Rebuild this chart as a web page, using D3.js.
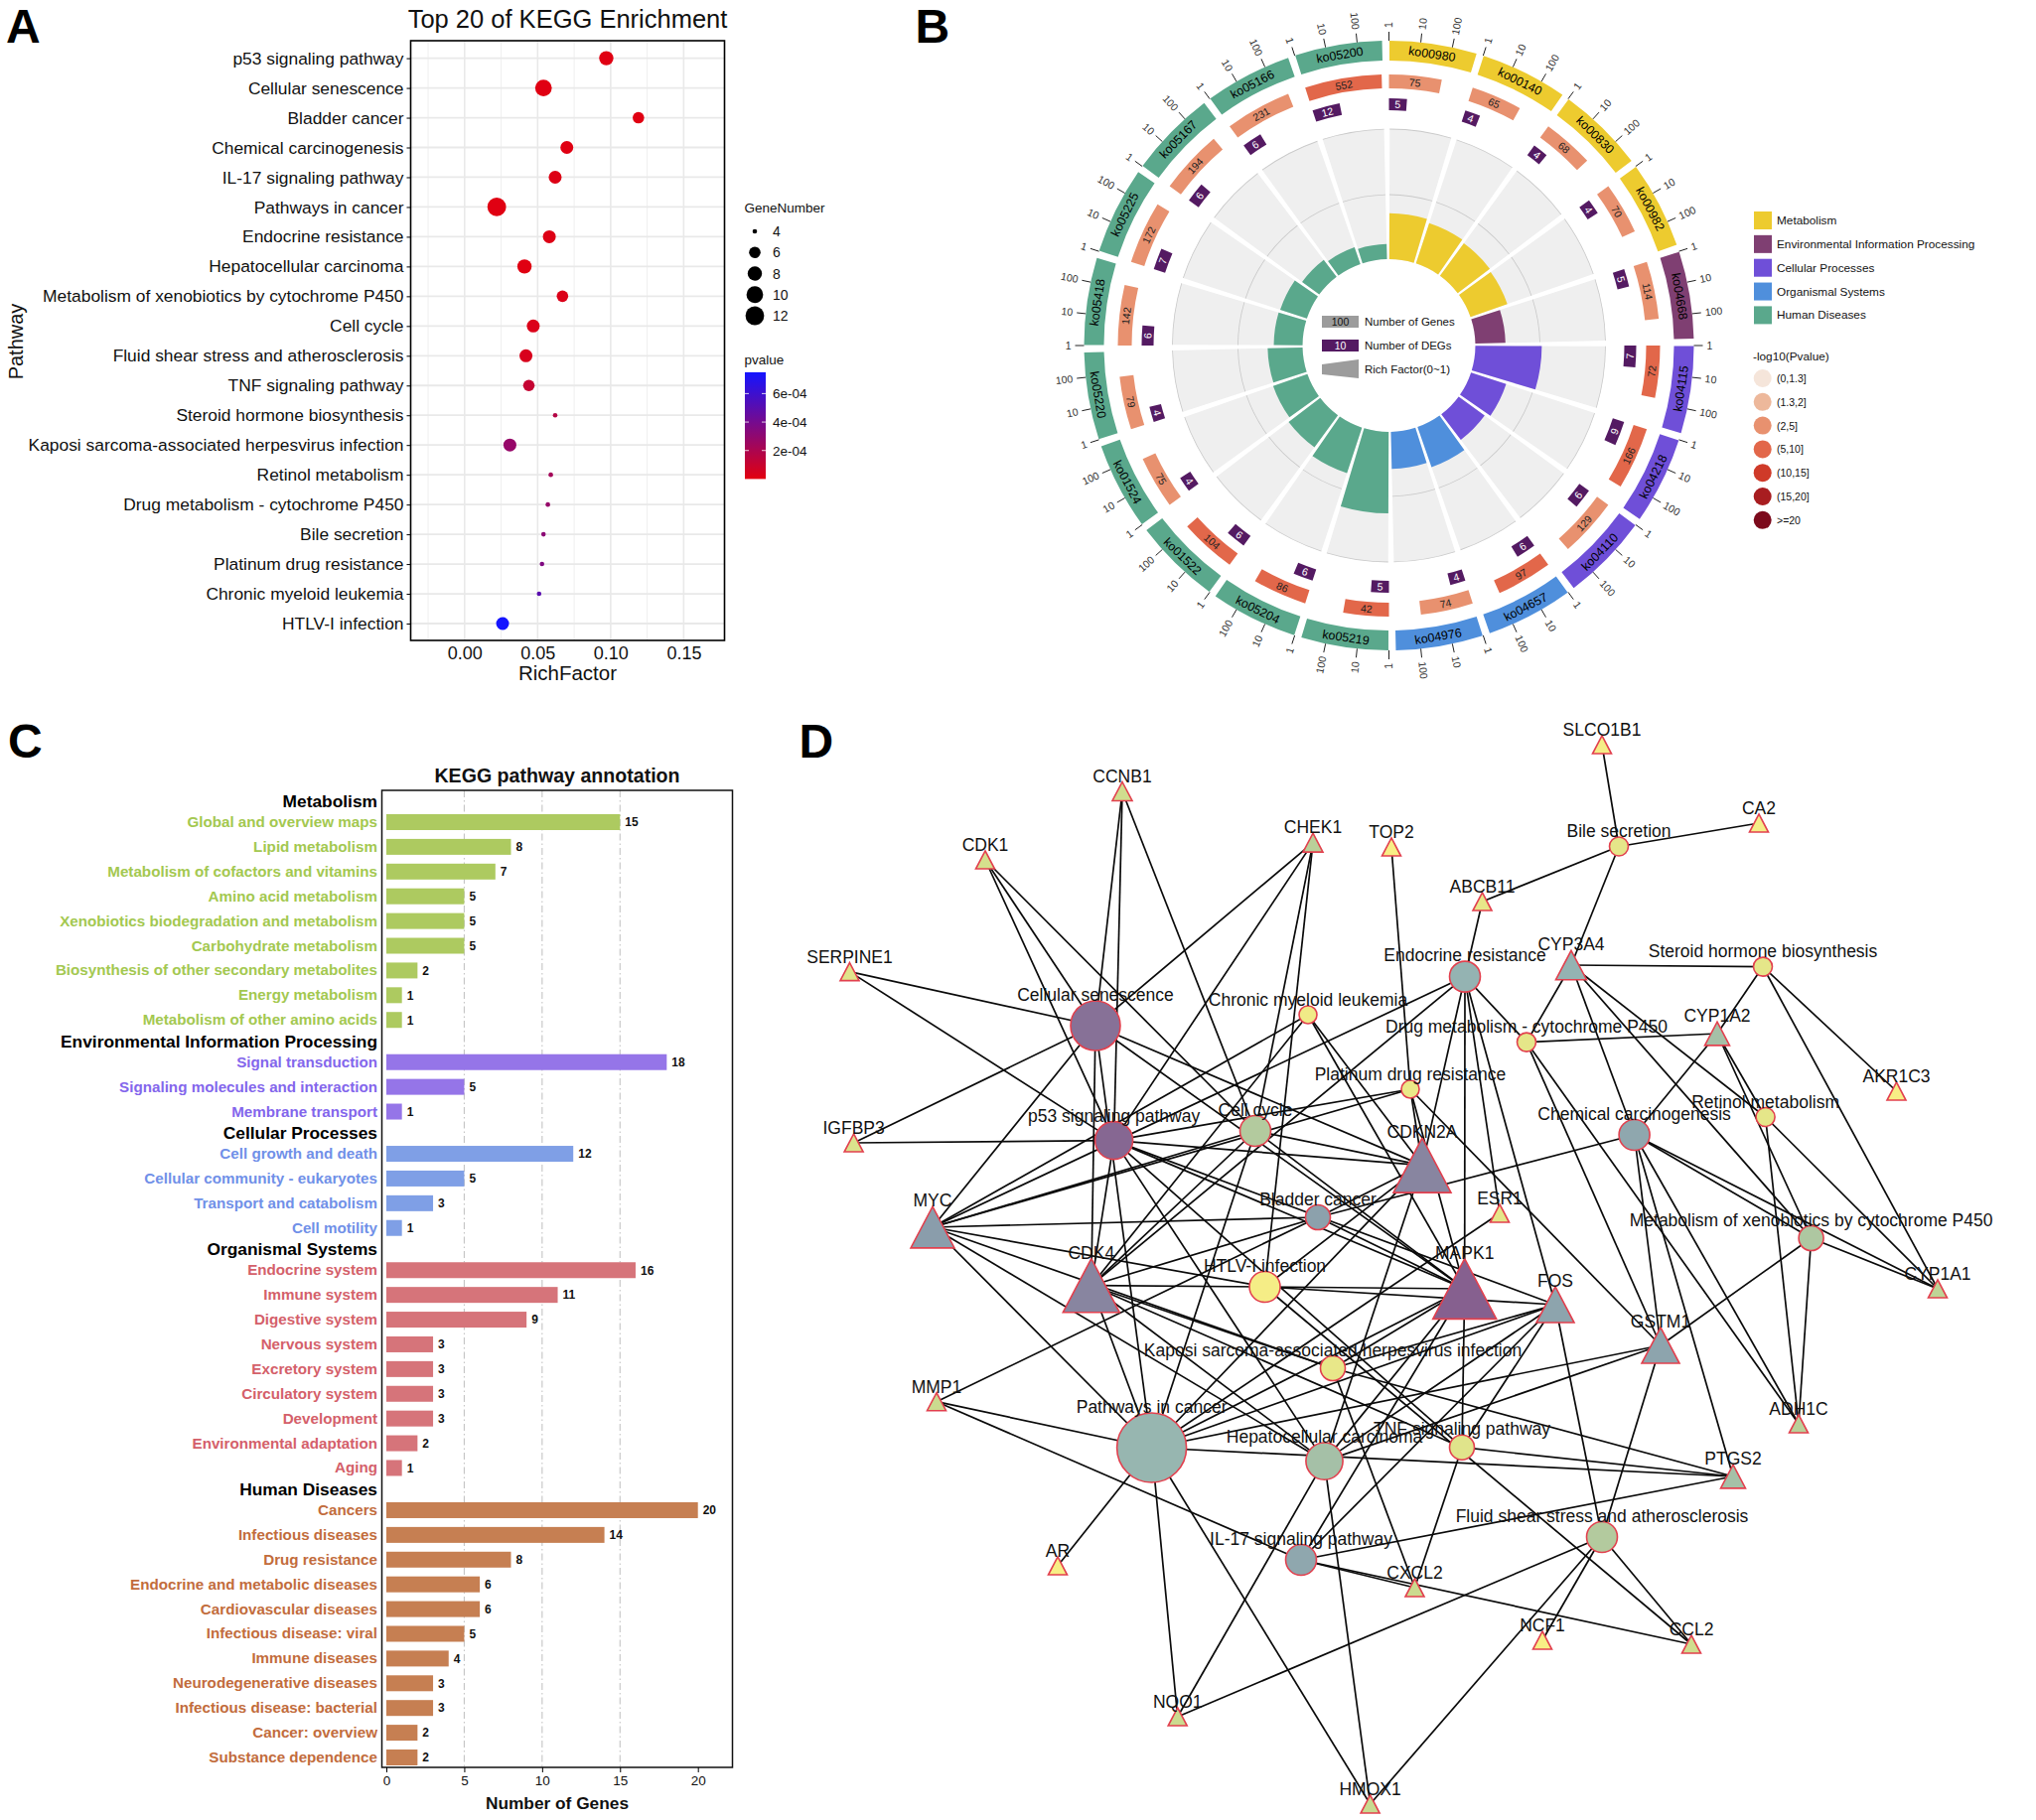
<!DOCTYPE html>
<html>
<head>
<meta charset="utf-8">
<script src="https://cdn.jsdelivr.net/npm/d3@7"></script>
<style>
  html, body { margin: 0; padding: 0; background: #fff; }
  svg { display: block; }
  text { font-family: "Liberation Sans", Arial, sans-serif; fill: #111; }
</style>
</head>
<body>
<script>
const width = 2050;
const height = 1833;

// panel A
const pathways = ["p53 signaling pathway", "Cellular senescence", "Bladder cancer", "Chemical carcinogenesis",
    "IL-17 signaling pathway", "Pathways in cancer", "Endocrine resistance", "Hepatocellular carcinoma",
    "Metabolism of xenobiotics by cytochrome P450", "Cell cycle", "Fluid shear stress and atherosclerosis",
    "TNF signaling pathway", "Steroid hormone biosynthesis", "Kaposi sarcoma-associated herpesvirus infection",
    "Retinol metabolism", "Drug metabolism - cytochrome P450", "Bile secretion", "Platinum drug resistance",
    "Chronic myeloid leukemia", "HTLV-I infection"];
const richFactor = [0.097, 0.054, 0.119, 0.070, 0.062, 0.022, 0.058, 0.041, 0.067, 0.047, 0.042, 0.044, 0.062, 0.031, 0.059, 0.057, 0.054, 0.053, 0.051, 0.026];
const geneNumber = [8, 10, 6, 7, 7, 12, 7, 8, 6, 7, 7, 6, 4, 7, 4, 4, 4, 4, 4, 7];
const pvalue = [0.00001, 0.00001, 0.00001, 0.00001, 0.00002, 0.00001, 0.00002, 0.00001, 0.00003, 0.00003, 0.00004, 0.00011, 0.00017, 0.00028, 0.00023, 0.00028, 0.00032, 0.00036, 0.0005, 0.00075];
const sizeLegend = [4, 6, 8, 10, 12];
const pvalueTicks = [0.0002, 0.0004, 0.0006];
const pvalueLabels = ["2e-04", "4e-04", "6e-04"];

// panel B
const koIds = ["ko00980", "ko00140", "ko00830", "ko00982", "ko04668", "ko04115", "ko04218", "ko04110", "ko04657", "ko04976",
    "ko05219", "ko05204", "ko01522", "ko01524", "ko05220", "ko05418", "ko05225", "ko05167", "ko05166", "ko05200"];
const koClass = [0, 0, 0, 0, 1, 2, 2, 2, 3, 3, 4, 4, 4, 4, 4, 4, 4, 4, 4, 4];
const koGenes = [75, 65, 68, 70, 114, 72, 166, 129, 97, 74, 42, 86, 104, 75, 79, 142, 172, 194, 231, 552];
const koDegs = [5, 4, 4, 4, 5, 7, 9, 6, 6, 4, 5, 6, 6, 4, 4, 6, 7, 6, 6, 12];
const koRich = [0.067, 0.062, 0.059, 0.057, 0.044, 0.097, 0.054, 0.047, 0.062, 0.054, 0.119, 0.070, 0.058, 0.053, 0.051, 0.042, 0.041, 0.031, 0.026, 0.022];
const koPbin = [2, 2, 2, 2, 2, 3, 3, 2, 3, 2, 3, 3, 3, 2, 2, 2, 2, 2, 2, 3];
const classNames = ["Metabolism", "Environmental Information Processing", "Cellular Processes", "Organismal Systems", "Human Diseases"];
const classColors = ["#edcb2f", "#7f3f72", "#6f4fd8", "#4f8fdc", "#5aa88c"];
const pBinNames = ["(0,1.3]", "(1.3,2]", "(2,5]", "(5,10]", "(10,15]", "(15,20]", ">=20"];
const pBinColors = ["#f5e5da", "#edb89b", "#e8916f", "#e2674a", "#cf3a29", "#a81d20", "#7c0a1c"];
const logTicks = [1, 10, 100];

// panel C
const annotationGroups = ["Metabolism", "Environmental Information Processing", "Cellular Processes", "Organismal Systems", "Human Diseases"];
const annotationBar = ["#adca60", "#9575e8", "#7f9fe6", "#d6747a", "#c67f52"];
const annotationText = ["#a3c850", "#8366ec", "#7090e8", "#d4606a", "#c26c3c"];
const annotationRows = [
    ["Global and overview maps", "Lipid metabolism", "Metabolism of cofactors and vitamins", "Amino acid metabolism", "Xenobiotics biodegradation and metabolism", "Carbohydrate metabolism", "Biosynthesis of other secondary metabolites", "Energy metabolism", "Metabolism of other amino acids"],
    ["Signal transduction", "Signaling molecules and interaction", "Membrane transport"],
    ["Cell growth and death", "Cellular community - eukaryotes", "Transport and catabolism", "Cell motility"],
    ["Endocrine system", "Immune system", "Digestive system", "Nervous system", "Excretory system", "Circulatory system", "Development", "Environmental adaptation", "Aging"],
    ["Cancers", "Infectious diseases", "Drug resistance", "Endocrine and metabolic diseases", "Cardiovascular diseases", "Infectious disease: viral", "Immune diseases", "Neurodegenerative diseases", "Infectious disease: bacterial", "Cancer: overview", "Substance dependence"]
];
const annotationValues = [
    [15, 8, 7, 5, 5, 5, 2, 1, 1],
    [18, 5, 1],
    [12, 5, 3, 1],
    [16, 11, 9, 3, 3, 3, 3, 2, 1],
    [20, 14, 8, 6, 6, 5, 4, 3, 3, 2, 2]
];

// panel D, layout
const geneNames = ["CCNB1", "CHEK1", "TOP2", "CDK1", "SERPINE1", "IGFBP3", "CDKN2A", "MYC", "SLCO1B1", "CA2", "ABCB11", "CYP3A4", "CYP1A2", "AKR1C3", "ESR1", "CYP1A1", "MAPK1", "FOS", "GSTM1", "ADH1C", "PTGS2", "CXCL2", "NCF1", "CCL2", "CDK4", "MMP1", "AR", "NQO1", "HMOX1"];
const geneX = [1130, 1322, 1401, 992, 855.5, 859.6, 1432, 939, 1613, 1771, 1492.5, 1582, 1729, 1909.5, 1510, 1951, 1474.7, 1566, 1672, 1811, 1745, 1424.5, 1553, 1703, 1098.8, 943, 1065, 1185.7, 1379.6];
const geneY = [797, 848.6, 853, 866, 978.6, 1151, 1173.6, 1236, 750, 829, 908, 972, 1041, 1099, 1222, 1298, 1298, 1314, 1355, 1434, 1487, 1599, 1652, 1656, 1294.7, 1411.7, 1577, 1729, 1817];
const geneSize = [20, 20, 19, 19, 19, 19, 58, 44, 19, 19, 19, 31, 25, 19, 19, 19, 64, 38, 38, 19, 25, 19, 19, 19, 57, 19, 19, 19, 19];
const geneShade = [0.25, 0.38, 0, 0.22, 0.15, 0.18, 0.85, 0.75, 0.02, 0.02, 0.1, 0.6, 0.5, 0, 0.12, 0.35, 1, 0.7, 0.7, 0.38, 0.5, 0.28, 0, 0.25, 0.85, 0.28, 0, 0.28, 0.3];

const termNames = ["Cellular senescence", "Chronic myeloid leukemia", "Platinum drug resistance", "p53 signaling pathway", "Cell cycle", "Bladder cancer", "Bile secretion", "Steroid hormone biosynthesis", "Endocrine resistance", "Drug metabolism - cytochrome P450", "Retinol metabolism", "Chemical carcinogenesis", "Metabolism of xenobiotics by cytochrome P450", "TNF signaling pathway", "Fluid shear stress and atherosclerosis", "HTLV-I infection", "Kaposi sarcoma-associated herpesvirus infection", "Pathways in cancer", "Hepatocellular carcinoma", "IL-17 signaling pathway"];
const termX = [1103, 1317, 1420, 1121.6, 1264, 1327, 1630, 1775, 1475, 1537, 1777.6, 1645.6, 1823.6, 1472, 1613, 1273.5, 1342, 1159.6, 1333.5, 1310];
const termY = [1033, 1022, 1097, 1148.6, 1139, 1226, 852.5, 973.6, 983.6, 1049.6, 1125, 1143, 1247, 1457.7, 1548, 1296, 1378, 1458, 1471.6, 1571];
const termRadius = [25, 9, 9, 19, 15.5, 12.5, 9.5, 9.5, 15.5, 9.5, 9.5, 15.5, 12.5, 12.5, 15.5, 15.5, 12.5, 35, 18.6, 15.5];
const termShade = [0.93, 0.05, 0.08, 0.97, 0.42, 0.72, 0.12, 0.12, 0.6, 0.12, 0.12, 0.68, 0.45, 0.15, 0.42, 0.02, 0.1, 0.58, 0.5, 0.68];

const termLinks = [
    ["Bile secretion", ["SLCO1B1", "CA2", "ABCB11", "CYP3A4"]],
    ["Endocrine resistance", ["ABCB11", "ESR1", "CDKN2A", "MAPK1", "FOS", "CDK4", "MYC", "Drug metabolism - cytochrome P450"]],
    ["Steroid hormone biosynthesis", ["CYP3A4", "CYP1A2", "AKR1C3", "CYP1A1"]],
    ["Drug metabolism - cytochrome P450", ["CYP3A4", "CYP1A2", "GSTM1", "ADH1C"]],
    ["Retinol metabolism", ["CYP3A4", "CYP1A2", "ADH1C", "CYP1A1"]],
    ["Chemical carcinogenesis", ["CYP3A4", "CYP1A2", "GSTM1", "PTGS2", "ADH1C", "CYP1A1", "Bladder cancer", "Metabolism of xenobiotics by cytochrome P450"]],
    ["Metabolism of xenobiotics by cytochrome P450", ["CYP3A4", "CYP1A2", "GSTM1", "ADH1C", "CYP1A1"]],
    ["Platinum drug resistance", ["TOP2", "GSTM1", "CDKN2A", "MAPK1", "MYC", "p53 signaling pathway"]],
    ["Chronic myeloid leukemia", ["MYC", "CDK4", "CDKN2A", "MAPK1"]],
    ["Bladder cancer", ["MYC", "CDKN2A", "MAPK1", "CDK4", "MMP1"]],
    ["Cellular senescence", ["SERPINE1", "IGFBP3", "CCNB1", "CHEK1", "CDK1", "MYC", "CDKN2A", "MAPK1", "CDK4", "Pathways in cancer"]],
    ["p53 signaling pathway", ["SERPINE1", "IGFBP3", "CCNB1", "CHEK1", "CDK1", "CDK4", "CDKN2A", "MAPK1", "FOS", "Hepatocellular carcinoma", "TNF signaling pathway"]],
    ["Cell cycle", ["CCNB1", "CDK1", "CHEK1", "CDKN2A", "CDK4", "MYC", "MAPK1", "Pathways in cancer"]],
    ["HTLV-I infection", ["CHEK1", "CDK4", "MYC", "MAPK1", "FOS", "CDKN2A", "CCL2"]],
    ["Kaposi sarcoma-associated herpesvirus infection", ["MYC", "CDK4", "MAPK1", "FOS", "PTGS2", "CXCL2"]],
    ["TNF signaling pathway", ["MAPK1", "FOS", "CXCL2", "PTGS2", "CDK4"]],
    ["Fluid shear stress and atherosclerosis", ["FOS", "GSTM1", "NCF1", "CCL2", "HMOX1", "NQO1"]],
    ["IL-17 signaling pathway", ["MMP1", "FOS", "MAPK1", "PTGS2", "CXCL2", "CCL2"]],
    ["Hepatocellular carcinoma", ["MYC", "CDK4", "CDKN2A", "MAPK1", "FOS", "GSTM1", "NQO1", "HMOX1"]],
    ["Pathways in cancer", ["MYC", "CDK4", "CDKN2A", "MAPK1", "FOS", "GSTM1", "PTGS2", "MMP1", "AR", "NQO1", "HMOX1", "ESR1"]]
];

const svg = d3.select("body").append("svg").attr("width", width).attr("height", height);

const panelLetters = [["A", 6, 43], ["B", 921.5, 43], ["C", 8, 763], ["D", 804.5, 763]];
svg.selectAll(".panel-letter").data(panelLetters).join("text")
    .attr("class", "panel-letter")
    .attr("x", d => d[1])
    .attr("y", d => d[2])
    .attr("font-size", 48)
    .attr("font-weight", "bold")
    .style("fill", "#000")
    .text(d => d[0]);

function drawEnrichment() {
    const g = svg.append("g");
    const box = { left: 413.5, right: 729.5, top: 41, bottom: 645 };

    const x = d3.scaleLinear().domain([0, 0.15]).range([467.8, 688.4]);
    const y = d3.scalePoint().domain(pathways).range([58.6, 628]);
    const radius = d3.scaleLinear().domain(sizeLegend).range([2.3, 5.8, 7.2, 8.4, 9.4]);
    const color = d3.scaleLinear().domain([0, 0.00075]).range(["#e3000f", "#1414ff"]);

    const minor = [-0.025, 0.025, 0.075, 0.125];
    const major = [0, 0.05, 0.1, 0.15];
    g.selectAll(".minor").data(minor).join("line")
        .attr("x1", d => x(d)).attr("x2", d => x(d)).attr("y1", box.top).attr("y2", box.bottom)
        .attr("stroke", "#efefef").attr("stroke-width", 1);
    g.selectAll(".major").data(major).join("line")
        .attr("x1", d => x(d)).attr("x2", d => x(d)).attr("y1", box.top).attr("y2", box.bottom)
        .attr("stroke", "#e9e9e9").attr("stroke-width", 1.6);
    g.selectAll(".hgrid").data(pathways).join("line")
        .attr("x1", box.left).attr("x2", box.right).attr("y1", d => y(d)).attr("y2", d => y(d))
        .attr("stroke", "#e9e9e9").attr("stroke-width", 1.8);

    g.selectAll(".dot").data(pathways).join("circle")
        .attr("cx", (d, i) => x(richFactor[i]))
        .attr("cy", d => y(d))
        .attr("r", (d, i) => radius(geneNumber[i]))
        .attr("fill", (d, i) => color(pvalue[i]));

    g.append("rect")
        .attr("x", box.left).attr("y", box.top)
        .attr("width", box.right - box.left).attr("height", box.bottom - box.top)
        .attr("fill", "none").attr("stroke", "#000").attr("stroke-width", 1.6);

    const yAxis = g.append("g").attr("transform", `translate(${box.left},0)`)
        .call(d3.axisLeft(y).tickSize(4).tickPadding(3));
    yAxis.select(".domain").remove();
    yAxis.selectAll("text").attr("font-size", 17.4).style("font-family", "Liberation Sans");

    const xAxis = g.append("g").attr("transform", `translate(0,${box.bottom})`)
        .call(d3.axisBottom(x).tickValues(major).tickFormat(d3.format(".2f")).tickSize(0).tickPadding(6));
    xAxis.select(".domain").remove();
    xAxis.selectAll("text").attr("font-size", 18).style("font-family", "Liberation Sans");

    g.append("text").attr("x", 571.5).attr("y", 28).attr("text-anchor", "middle").attr("font-size", 25.5)
        .text("Top 20 of KEGG Enrichment");
    g.append("text").attr("x", 571.5).attr("y", 685).attr("text-anchor", "middle").attr("font-size", 20.5)
        .text("RichFactor");
    g.append("text").attr("transform", "translate(23,344) rotate(-90)").attr("text-anchor", "middle").attr("font-size", 20)
        .text("Pathway");

    // size legend
    const sizeY = d3.scalePoint().domain(sizeLegend).range([233, 318]);
    g.append("text").attr("x", 749.5).attr("y", 214).attr("font-size", 13.5).text("GeneNumber");
    g.selectAll(".size-dot").data(sizeLegend).join("circle")
        .attr("cx", 760).attr("cy", d => sizeY(d)).attr("r", d => radius(d)).attr("fill", "#000");
    g.selectAll(".size-label").data(sizeLegend).join("text")
        .attr("x", 778).attr("y", d => sizeY(d) + 5).attr("font-size", 14).text(d => d);

    // colour bar
    const barY = d3.scaleLinear().domain([0, 0.0006]).range([482.4, 396.4]);
    const defs = svg.append("defs");
    const grad = defs.append("linearGradient").attr("id", "pgrad").attr("x1", 0).attr("x2", 0).attr("y1", 1).attr("y2", 0);
    d3.range(0, 1.01, 0.1).forEach(t => {
        grad.append("stop").attr("offset", t).attr("stop-color", color(t * 0.00075));
    });
    g.append("text").attr("x", 749.5).attr("y", 366.5).attr("font-size", 13.5).text("pvalue");
    g.append("rect").attr("x", 750).attr("y", barY(0.00075)).attr("width", 21)
        .attr("height", barY(0) - barY(0.00075)).attr("fill", "url(#pgrad)");
    g.selectAll(".bar-tick").data(pvalueTicks).join("line")
        .attr("x1", 750).attr("x2", 771).attr("y1", d => barY(d)).attr("y2", d => barY(d))
        .attr("stroke", "#fff").attr("stroke-width", 0.8).attr("stroke-dasharray", "4 13");
    g.selectAll(".bar-label").data(pvalueTicks).join("text")
        .attr("x", 778).attr("y", d => barY(d) + 5).attr("font-size", 13.5).text((d, i) => pvalueLabels[i]);
}

function drawCircle() {
    const cx = 1398.5, cy = 348;
    const g = svg.append("g").attr("transform", `translate(${cx},${cy})`);
    const rad = Math.PI / 180;
    const sector = 18;
    const span = d3.scaleLog().domain([1, 1000]).range([0, 18]);
    const barRadius = d3.scaleLinear().domain([0, 0.19]).range([87, 218]);
    const arc = d3.arc();
    const wedge = (r0, r1, a0, a1) => arc({ innerRadius: r0, outerRadius: r1, startAngle: a0 * rad, endAngle: a1 * rad });
    const upright = a => {
        const m = ((a % 360) + 360) % 360;
        if (m > 90 && m < 270) return m - 180;
        return m > 270 ? m - 360 : m;
    };
    const polar = (r, a) => [r * Math.sin(a * rad), -r * Math.cos(a * rad)];

    const rows = koIds.map((id, i) => ({
        id, i, start: i * sector, genes: koGenes[i], degs: koDegs[i], rich: koRich[i],
        fill: classColors[koClass[i]], pfill: pBinColors[koPbin[i]]
    }));

    // grey background and rich factor bars
    g.selectAll(".bg").data(rows).join("path")
        .attr("d", d => wedge(87, 218, d.start + 0.2, d.start + 16.7))
        .attr("fill", "#efefef");
    [152, 218].forEach(r => {
        g.selectAll(".ring" + r).data(rows).join("path")
            .attr("d", d => wedge(r - 0.4, r + 0.4, d.start + 0.2, d.start + 16.7))
            .attr("fill", "#c9c9c9");
    });
    g.selectAll(".rich").data(rows).join("path")
        .attr("d", d => wedge(87, barRadius(d.rich), d.start + 0.2, d.start + 16.7))
        .attr("fill", d => d.fill);

    // outer ring with log ticks
    g.selectAll(".outer").data(rows).join("path")
        .attr("d", d => wedge(287, 307, d.start + 0.1, d.start + 16.7))
        .attr("fill", d => d.fill);
    const placed = (sel, radius, angle) => sel
        .attr("transform", d => {
            const a = angle(d), p = polar(radius, a);
            return `translate(${p[0]},${p[1]}) rotate(${upright(a)})`;
        })
        .attr("text-anchor", "middle")
        .attr("dy", "0.35em");
    placed(g.selectAll(".ko").data(rows).join("text"), 297, d => d.start + 8.4)
        .attr("font-size", 12.4).style("fill", "#000").text(d => d.id);

    const ticks = rows.flatMap(d => logTicks.map(t => ({ t, a: d.start + span(t) })));
    g.selectAll(".tick").data(ticks).join("line")
        .attr("x1", d => polar(307, d.a)[0]).attr("y1", d => polar(307, d.a)[1])
        .attr("x2", d => polar(316, d.a)[0]).attr("y2", d => polar(316, d.a)[1])
        .attr("stroke", "#222").attr("stroke-width", 1);
    g.selectAll(".tick-label").data(ticks).join("text")
        .attr("transform", d => {
            const p = polar(320, d.a);
            return `translate(${p[0]},${p[1]}) rotate(${d.a < 180 ? d.a - 90 : d.a - 270})`;
        })
        .attr("text-anchor", d => d.a < 180 ? "start" : "end")
        .attr("dy", "0.35em").attr("font-size", 10.5).style("fill", "#333")
        .text(d => d.t);

    // genes ring
    g.selectAll(".genes").data(rows).join("path")
        .attr("d", d => wedge(259, 273, d.start, d.start + span(d.genes)))
        .attr("fill", d => d.pfill);
    placed(g.selectAll(".genes-label").data(rows).join("text"), 266, d => d.start + span(d.genes) / 2)
        .attr("font-size", 10.5).style("fill", "#222").text(d => d.genes);

    // DEG ring
    g.selectAll(".degs").data(rows).join("path")
        .attr("d", d => wedge(237, 249, d.start, d.start + span(d.degs)))
        .attr("fill", "#541a62");
    placed(g.selectAll(".degs-label").data(rows).join("text"), 243, d => d.start + span(d.degs) / 2)
        .attr("font-size", 10.5).style("fill", "#fff").text(d => d.degs);

    // key in the hole
    const key = svg.append("g").attr("transform", "translate(-2,-1)");
    key.append("rect").attr("x", 1333).attr("y", 319).attr("width", 37).attr("height", 12).attr("fill", "#9c9c9c");
    key.append("text").attr("x", 1351.5).attr("y", 329).attr("text-anchor", "middle").attr("font-size", 10.5).text("100");
    key.append("text").attr("x", 1376).attr("y", 329).attr("font-size", 11.5).text("Number of Genes");
    key.append("rect").attr("x", 1333).attr("y", 343).attr("width", 37).attr("height", 12).attr("fill", "#541a62");
    key.append("text").attr("x", 1351.5).attr("y", 353).attr("text-anchor", "middle").attr("font-size", 10.5).style("fill", "#fff").text("10");
    key.append("text").attr("x", 1376).attr("y", 353).attr("font-size", 11.5).text("Number of DEGs");
    key.append("path").attr("d", d3.line()([[1333, 368], [1370, 363], [1370, 382], [1333, 378]])).attr("fill", "#9c9c9c");
    key.append("text").attr("x", 1376).attr("y", 377).attr("font-size", 11.5).text("Rich Factor(0~1)");

    // class legend
    const legendY = d3.scalePoint().domain(classNames).range([213, 308.4]);
    const leg = svg.append("g");
    leg.selectAll(".class-box").data(classNames).join("rect")
        .attr("x", 1766).attr("y", d => legendY(d)).attr("width", 18).attr("height", 18)
        .attr("fill", (d, i) => classColors[i]);
    leg.selectAll(".class-label").data(classNames).join("text")
        .attr("x", 1789).attr("y", d => legendY(d) + 13).attr("font-size", 11.8).text(d => d);

    const binY = d3.scalePoint().domain(pBinNames).range([381, 523.8]);
    leg.append("text").attr("x", 1765).attr("y", 363).attr("font-size", 11.8).text("-log10(Pvalue)");
    leg.selectAll(".bin-dot").data(pBinNames).join("circle")
        .attr("cx", 1774.7).attr("cy", d => binY(d)).attr("r", 9)
        .attr("fill", (d, i) => pBinColors[i]);
    leg.selectAll(".bin-label").data(pBinNames).join("text")
        .attr("x", 1789).attr("y", d => binY(d) + 4).attr("font-size", 10.5).text(d => d);
}

function drawAnnotation() {
    const g = svg.append("g");
    const box = { left: 384.5, right: 737.5, top: 796, bottom: 1780 };
    const x = d3.scaleLinear().domain([0, 20]).range([389, 702.7]);

    // rows sit on a running slot number, with a taller slot where a group heading sits
    const headGap = 0.707;
    let slot = 0;
    const rows = [], heads = [];
    annotationGroups.forEach((name, gi) => {
        if (gi > 0) slot += headGap;
        heads.push({ name, slot: slot - 0.82 });
        annotationRows[gi].forEach((label, ri) => {
            rows.push({ label, gi, value: annotationValues[gi][ri], slot });
            slot += 1;
        });
    });
    const y = d3.scaleLinear().domain([0, slot - 1]).range([828, 1770]);
    const barH = 16;

    g.selectAll(".vgrid").data([5, 10, 15]).join("line")
        .attr("x1", d => x(d)).attr("x2", d => x(d)).attr("y1", box.top).attr("y2", box.bottom)
        .attr("stroke", "#c4c4c4").attr("stroke-width", 1.1).attr("stroke-dasharray", "7 3 1.5 3");

    g.selectAll(".bar").data(rows).join("rect")
        .attr("x", x(0))
        .attr("y", d => y(d.slot) - barH / 2)
        .attr("width", d => x(d.value) - x(0))
        .attr("height", barH)
        .attr("fill", d => annotationBar[d.gi]);
    g.selectAll(".value").data(rows).join("text")
        .attr("x", d => x(d.value) + 5)
        .attr("y", d => y(d.slot) + 4.3)
        .attr("font-size", 12).attr("font-weight", "bold").style("fill", "#111")
        .text(d => d.value);
    g.selectAll(".row-label").data(rows).join("text")
        .attr("x", 380)
        .attr("y", d => y(d.slot) + 5)
        .attr("text-anchor", "end").attr("font-size", 15.2).attr("font-weight", "bold")
        .style("fill", d => annotationText[d.gi])
        .text(d => d.label);
    g.selectAll(".head-label").data(heads).join("text")
        .attr("x", 380)
        .attr("y", d => y(d.slot) + 5.5)
        .attr("text-anchor", "end").attr("font-size", 17.35).attr("font-weight", "bold")
        .style("fill", "#000")
        .text(d => d.name);

    g.append("rect").attr("x", box.left).attr("y", box.top)
        .attr("width", box.right - box.left).attr("height", box.bottom - box.top)
        .attr("fill", "none").attr("stroke", "#111").attr("stroke-width", 1.5);

    const axis = g.append("g").attr("transform", `translate(0,${box.bottom})`)
        .call(d3.axisBottom(x).tickValues([0, 5, 10, 15, 20]).tickSize(5).tickPadding(3));
    axis.select(".domain").remove();
    axis.selectAll("text").attr("font-size", 13.5).style("font-family", "Liberation Sans");

    g.append("text").attr("x", 561).attr("y", 788).attr("text-anchor", "middle")
        .attr("font-size", 19.6).attr("font-weight", "bold").text("KEGG pathway annotation");
    g.append("text").attr("x", 561).attr("y", 1822).attr("text-anchor", "middle")
        .attr("font-size", 17.3).attr("font-weight", "bold").text("Number of Genes");
}

function drawNetwork() {
    const g = svg.append("g");
    const layoutX = d3.scaleLinear().domain([800, 2000]).range([800, 2000]);
    const layoutY = d3.scaleLinear().domain([700, 1833]).range([700, 1833]);
    const shade = d3.scaleLinear()
        .domain([0, 0.3, 0.6, 0.75, 1])
        .range(["#f8ee85", "#c8da90", "#94b3b2", "#8a9dab", "#86608f"]);

    const genes = geneNames.map((name, i) => ({ name, x: layoutX(geneX[i]), y: layoutY(geneY[i]), size: geneSize[i], shade: geneShade[i] }));
    const terms = termNames.map((name, i) => ({ name, x: layoutX(termX[i]), y: layoutY(termY[i]), r: termRadius[i], shade: termShade[i] }));
    const byName = new Map([...genes, ...terms].map(d => [d.name, d]));
    const links = termLinks.flatMap(([term, others]) => others.map(o => [byName.get(term), byName.get(o)]));

    g.selectAll(".edge").data(links).join("line")
        .attr("x1", d => d[0].x).attr("y1", d => d[0].y)
        .attr("x2", d => d[1].x).attr("y2", d => d[1].y)
        .attr("stroke", "#0a0a0a").attr("stroke-width", 1.7);

    g.selectAll(".term").data(terms).join("circle")
        .attr("cx", d => d.x).attr("cy", d => d.y).attr("r", d => d.r)
        .attr("fill", d => shade(d.shade))
        .attr("stroke", "#e2404e").attr("stroke-width", 1.6);

    const triangle = d => {
        const h = d.size * 0.95;
        const p = d3.path();
        p.moveTo(d.x, d.y - h / 2);
        p.lineTo(d.x + d.size / 2, d.y + h / 2);
        p.lineTo(d.x - d.size / 2, d.y + h / 2);
        p.closePath();
        return p.toString();
    };
    g.selectAll(".gene").data(genes).join("path")
        .attr("d", triangle)
        .attr("fill", d => shade(d.shade))
        .attr("stroke", "#e2404e").attr("stroke-width", 1.6).attr("stroke-linejoin", "miter");

    g.selectAll(".term-label").data(terms).join("text")
        .attr("x", d => d.x).attr("y", d => d.y - d.r)
        .attr("text-anchor", "middle").attr("font-size", 17.5)
        .text(d => d.name);
    g.selectAll(".gene-label").data(genes).join("text")
        .attr("x", d => d.x).attr("y", d => d.y - d.size * 0.475)
        .attr("text-anchor", "middle").attr("font-size", 17.5)
        .text(d => d.name);
}

drawEnrichment();
drawCircle();
drawAnnotation();
drawNetwork();
</script>
</body>
</html>
